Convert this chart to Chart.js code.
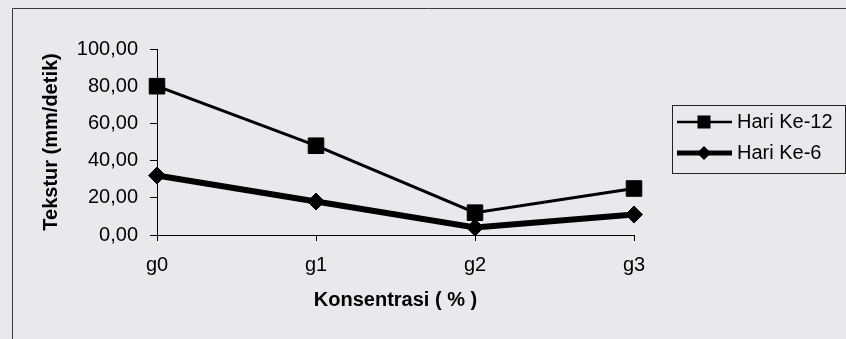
<!DOCTYPE html>
<html>
<head>
<meta charset="utf-8">
<script src="https://cdn.jsdelivr.net/npm/chart.js@4/dist/chart.umd.min.js"></script>
<style>
html,body{margin:0;padding:0;background:#e9e9eb;}
#wrap{width:846px;height:339px;position:relative;}
</style>
</head>
<body>
<div id="wrap"><canvas id="c" width="846" height="339"></canvas></div>
<script>
const categories = ['g0', 'g1', 'g2', 'g3'];
const seriesNames = ['Hari Ke-12', 'Hari Ke-6'];
const hari12 = [80, 48, 12, 25];
const hari6 = [32, 18, 4, 11];
const yTicks = [0, 20, 40, 60, 80, 100];
const xTitle = 'Konsentrasi ( % )';
const yTitle = 'Tekstur (mm/detik)';

const FONT = "'Liberation Sans', Arial, sans-serif";

const framePlugin = {
  id: 'frame',
  beforeDraw(chart) {
    const ctx = chart.ctx;
    ctx.save();
    ctx.strokeStyle = '#3a3a3a';
    ctx.lineWidth = 1;
    ctx.beginPath();
    ctx.moveTo(12.5, 339);
    ctx.lineTo(12.5, 8.5);
    ctx.lineTo(846, 8.5);
    ctx.stroke();
    ctx.restore();
  }
};

const legendPlugin = {
  id: 'customLegend',
  afterDraw(chart) {
    const ctx = chart.ctx;
    ctx.save();
    ctx.strokeStyle = '#222';
    ctx.lineWidth = 1;
    ctx.strokeRect(672.5, 105.5, 173, 68);
    const rows = [
      {y: 122, lw: 2.5, style: 'rect'},
      {y: 153, lw: 5, style: 'rectRot'}
    ];
    chart.data.datasets.forEach((ds, i) => {
      const r = rows[i];
      ctx.strokeStyle = '#000';
      ctx.fillStyle = '#000';
      ctx.lineWidth = r.lw;
      ctx.beginPath();
      ctx.moveTo(677, r.y);
      ctx.lineTo(732, r.y);
      ctx.stroke();
      const cx = 704;
      ctx.beginPath();
      if (r.style === 'rect') {
        ctx.rect(cx - 6.5, r.y - 6.5, 13, 13);
      } else {
        ctx.moveTo(cx, r.y - 7);
        ctx.lineTo(cx + 7, r.y);
        ctx.lineTo(cx, r.y + 7);
        ctx.lineTo(cx - 7, r.y);
        ctx.closePath();
      }
      ctx.fill();
      ctx.font = '20px ' + FONT;
      ctx.textBaseline = 'middle';
      ctx.textAlign = 'left';
      ctx.fillText(ds.label, 737, r.y);
    });
    ctx.restore();
  }
};

new Chart(document.getElementById('c'), {
  type: 'line',
  data: {
    labels: categories,
    datasets: [
      {
        label: seriesNames[0],
        data: hari12,
        borderColor: '#000',
        backgroundColor: '#000',
        borderWidth: 3,
        pointStyle: 'rect',
        pointRadius: 11,
        pointBorderWidth: 1,
        tension: 0
      },
      {
        label: seriesNames[1],
        data: hari6,
        borderColor: '#000',
        backgroundColor: '#000',
        borderWidth: 6,
        pointStyle: 'rectRot',
        pointRadius: 8.5,
        pointBorderWidth: 1,
        tension: 0
      }
    ]
  },
  options: {
    responsive: false,
    animation: false,
    devicePixelRatio: 1,
    layout: {padding: {left: 12, top: 49, right: 212, bottom: 0}},
    plugins: {legend: {display: false}, tooltip: {enabled: false}},
    scales: {
      x: {
        type: 'category',
        offset: false,
        grid: {display: true, drawOnChartArea: false, drawTicks: true, tickLength: 6, color: '#000'},
        border: {display: true, color: '#000', width: 1},
        ticks: {color: '#000', font: {family: FONT, size: 20}, padding: 12, maxRotation: 0},
        title: {display: true, text: xTitle, color: '#000', font: {family: FONT, size: 20, weight: 'bold'}, padding: {top: 0, bottom: 27}},
        afterFit(s) { s.height = 104; }
      },
      y: {
        min: 0,
        max: 100,
        afterBuildTicks(s) { s.ticks = yTicks.map(v => ({value: v})); },
        grid: {display: true, drawOnChartArea: false, drawTicks: true, tickLength: 7, color: '#000'},
        border: {display: true, color: '#000', width: 1},
        ticks: {
          color: '#000',
          font: {family: FONT, size: 20},
          padding: 12,
          callback: v => v.toFixed(2).replace('.', ',')
        },
        title: {display: true, text: yTitle, color: '#000', font: {family: FONT, size: 20, weight: 'bold'}, padding: {top: 27, bottom: 0}},
        afterFit(s) { s.width = 145; }
      }
    }
  },
  plugins: [framePlugin, legendPlugin]
});
</script>
</body>
</html>
